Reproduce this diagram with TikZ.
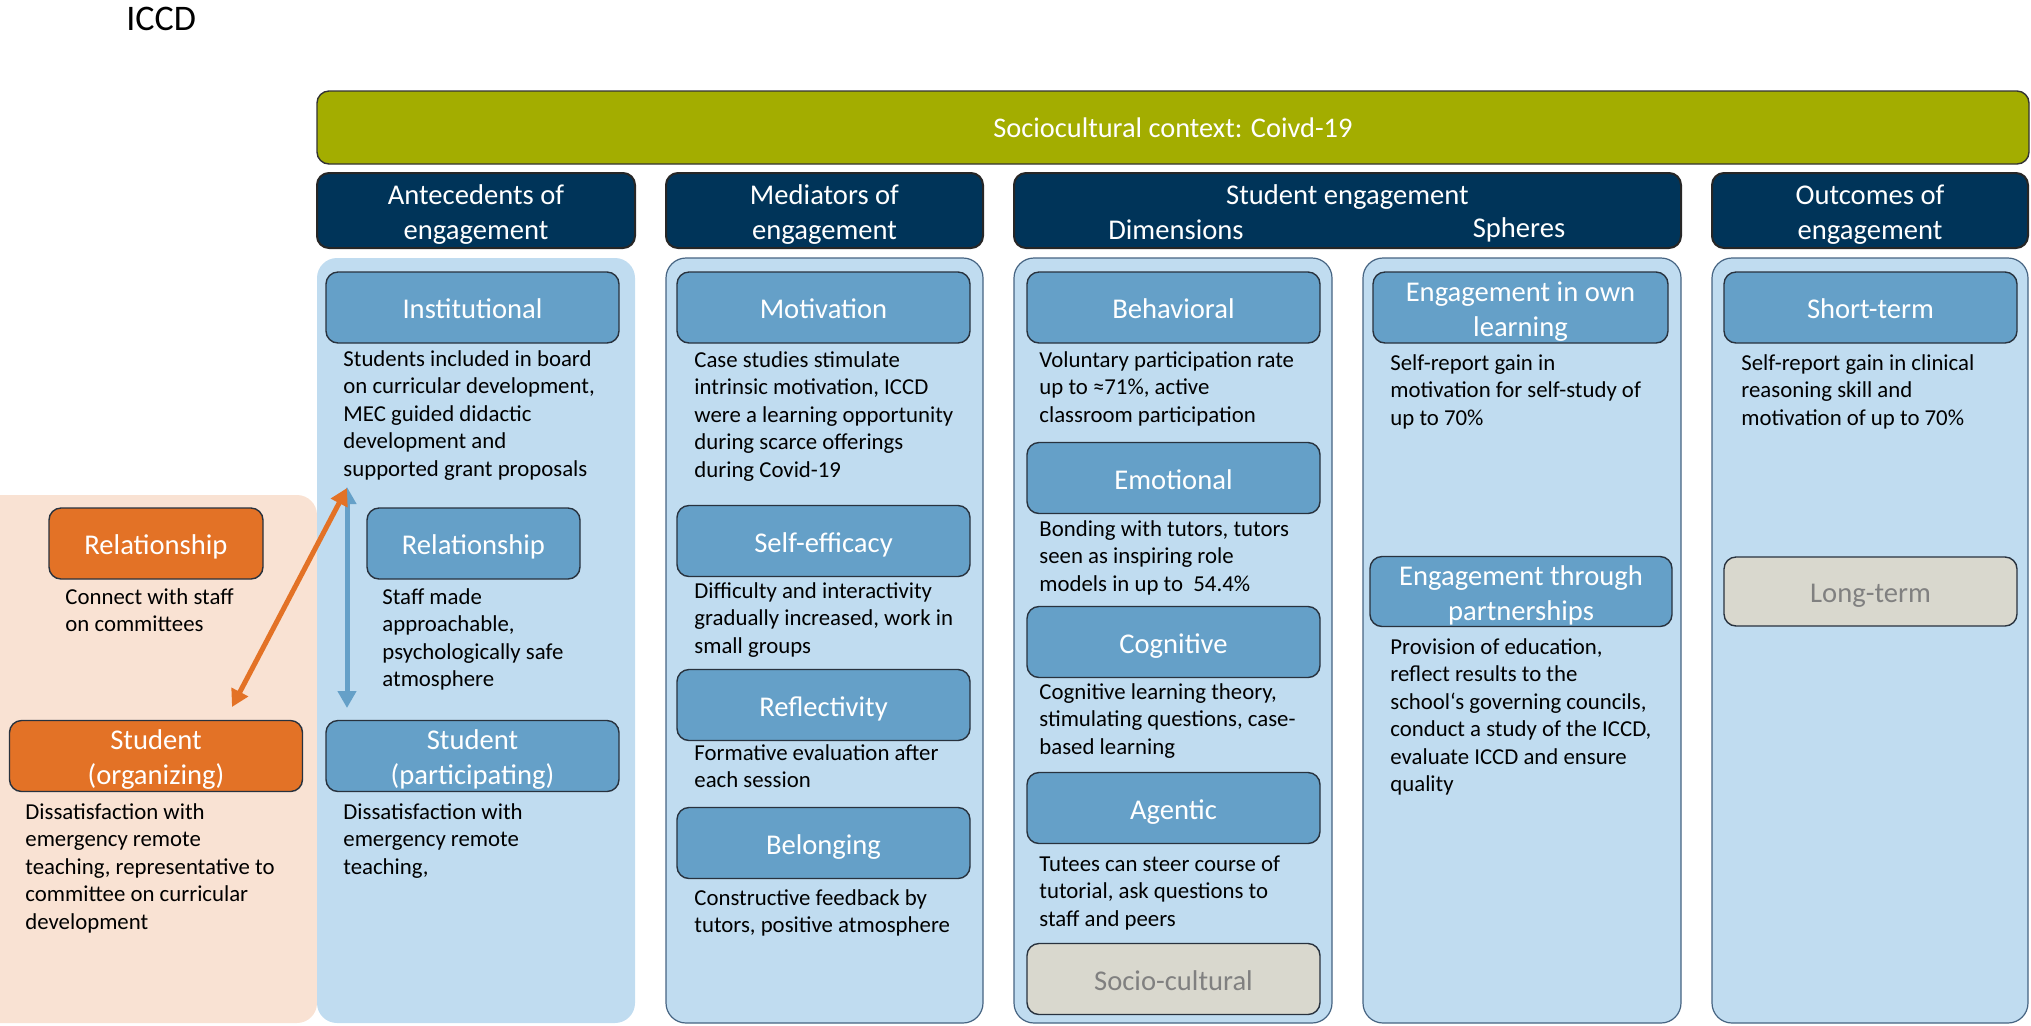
\documentclass[tikz,border=0pt]{standalone}
\usepackage{fontspec}
\setmainfont{Carlito}
\usetikzlibrary{arrows.meta}
\definecolor{ctxgreen}{RGB}{163,173,0}
\definecolor{hdblue}{RGB}{0,52,89}
\definecolor{bgblue}{RGB}{192,220,240}
\definecolor{boxblue}{RGB}{101,160,200}
\definecolor{orng}{RGB}{227,114,38}
\definecolor{peach}{RGB}{249,226,211}
\definecolor{greyfill}{RGB}{217,216,206}
\definecolor{greytext}{RGB}{128,128,128}
\definecolor{edgeline}{RGB}{40,50,62}
\definecolor{bgline}{RGB}{70,100,130}
\newcommand{\twolines}[2]{\raisebox{-2pt}[\height][\depth]{\begin{tabular}{@{}c@{}}#1\\#2\end{tabular}}}
\newcommand{\desclines}[1]{\begin{tabular}[t]{@{}l@{}}#1\end{tabular}}
\tikzset{
  titlefont/.style={font=\fontsize{14.3}{17.5}\selectfont},
  hdbox/.style={titlefont, rounded corners=6pt, fill=hdblue, draw=black!85, line width=1pt,
    text=white, inner sep=0pt, minimum height=37.5pt},
  hdtext/.style={titlefont, text=white, inner sep=0pt},
  subbox/.style={titlefont, rounded corners=6pt, fill=boxblue, draw=edgeline, line width=0.7pt,
    text=white, inner sep=0pt, minimum width=146.5pt, minimum height=35.5pt,
    text height=12.5pt, text depth=1.3pt},
  tall/.style={text height=, text depth=},
  orbox/.style={subbox, fill=orng},
  greybox/.style={subbox, fill=greyfill, text=greytext},
  desc/.style={font=\fontsize{11.4}{13.75}\selectfont, anchor=base west, inner sep=0pt},
  colbg/.style={fill=bgblue, draw=bgline, line width=0.6pt, rounded corners=10pt},
  twohead/.style={line width=2.5pt, {Triangle[width=9pt,length=8.5pt]}-{Triangle[width=9pt,length=8.5pt]}}
}
\begin{document}
\begin{tikzpicture}[x=0.5pt,y=-0.5pt]

  \useasboundingbox (0,0) rectangle (2031,1025);

  \node[anchor=base west, inner sep=0pt, font=\fontsize{18}{21}\selectfont] (iccd) at (126,30) {ICCD};

  \fill[peach, rounded corners=10pt] (-30,495) rectangle (317,1023);
  \fill[bgblue, rounded corners=10pt] (317,258) rectangle (635,1023);
  \path[colbg] (666,258) rectangle (983,1023);
  \path[colbg] (1014,258) rectangle (1332,1023);
  \path[colbg] (1363,258) rectangle (1681,1023);
  \path[colbg] (1712,258) rectangle (2028,1023);

  \node[rounded corners=6pt, fill=ctxgreen, draw=black!80, line width=0.7pt, text=white,
    font=\fontsize{14.2}{17}\selectfont, minimum width=856pt, minimum height=36.5pt, inner sep=0pt]
    (ctx) at (1173,127.5) {Sociocultural context: Coivd-19};

  \begin{scope}[every node/.style={hdbox}]
    \node[minimum width=159pt] (ante) at (476,210.5) {\twolines{Antecedents of}{engagement}};
    \node[minimum width=158.5pt] (medi) at (824.5,210.5) {\twolines{Mediators of}{engagement}};
    \node[minimum width=333.5pt] (enga) at (1347.5,210.5) {};
    \node[minimum width=158pt] (outc) at (1870,210.5) {\twolines{Outcomes of}{engagement}};
  \end{scope}

  \begin{scope}[every node/.style={hdtext}]
    \node (engt) at (1347.5,197) {Student engagement};
    \node (dims) at (1176,230) {Dimensions};
    \node (sphs) at (1519,230) {Spheres};
  \end{scope}

  \begin{scope}[every node/.style={subbox}]
    \node (inst) at (472.5,307.5) {Institutional};
    \node[minimum width=106.5pt] (relb) at (473.5,543.5) {Relationship};
    \node[tall] (spar) at (472.5,756) {\twolines{Student}{(participating)}};
    \node (moti) at (823.5,307.5) {Motivation};
    \node (self) at (823.5,541) {Self-efficacy};
    \node (refl) at (823.5,705) {Reflectivity};
    \node (belo) at (823.5,843) {Belonging};
    \node (beha) at (1173.5,307.5) {Behavioral};
    \node (emot) at (1173.5,478) {Emotional};
    \node (cogn) at (1173.5,642) {Cognitive};
    \node (agen) at (1173.5,808) {Agentic};
    \node[tall, minimum width=147.5pt] (ownl) at (1520.5,307.5) {\twolines{Engagement in own}{learning}};
    \node[tall, minimum width=151pt, minimum height=34.5pt] (part) at (1521,591.5) {\twolines{Engagement through}{partnerships}};
    \node (shor) at (1870.5,307.5) {Short-term};
  \end{scope}

  \node[orbox, minimum width=107pt] (relo) at (156,543.5) {Relationship};
  \node[orbox, tall] (sorg) at (156,756) {\twolines{Student}{(organizing)}};
  \node[greybox] (soci) at (1173.5,979) {Socio-cultural};
  \node[greybox, minimum height=34.5pt] (long) at (1870.5,591.5) {Long-term};

  \begin{scope}[every node/.style={desc}]
    \node (instd) at (343,366) {\desclines{Students included in board\\on curricular development,\\MEC guided didactic\\development and\\supported grant proposals}};
    \node (relbd) at (382,604) {\desclines{Staff made\\approachable,\\psychologically safe\\atmosphere}};
    \node (spard) at (343,819) {\desclines{Dissatisfaction with\\emergency remote\\teaching,}};
    \node (relod) at (65,604) {\desclines{Connect with staff\\on committees}};
    \node (sorgd) at (25,819) {\desclines{Dissatisfaction with\\emergency remote\\teaching, representative to\\committee on curricular\\development}};
    \node (motid) at (694,367) {\desclines{Case studies stimulate\\intrinsic motivation, ICCD\\were a learning opportunity\\during scarce offerings\\during Covid-19}};
    \node (selfd) at (694,598) {\desclines{Difficulty and interactivity\\gradually increased, work in\\small groups}};
    \node (refld) at (694,760) {\desclines{Formative evaluation after\\each session}};
    \node (belod) at (694,905) {\desclines{Constructive feedback by\\tutors, positive atmosphere}};
    \node (behad) at (1039,367) {\desclines{Voluntary participation rate\\up to ≈71\%, active\\classroom participation}};
    \node (emotd) at (1039,536) {\desclines{Bonding with tutors, tutors\\seen as inspiring role\\models in up to\ \ 54.4\%}};
    \node (cognd) at (1039,699) {\desclines{Cognitive learning theory,\\stimulating questions, case-\\based learning}};
    \node (agend) at (1039,871) {\desclines{Tutees can steer course of\\tutorial, ask questions to\\staff and peers}};
    \node (ownld) at (1390,370) {\desclines{Self-report gain in\\motivation for self-study of\\up to 70\%}};
    \node (partd) at (1390,654) {\desclines{Provision of education,\\reflect results to the\\school‘s governing councils,\\conduct a study of the ICCD,\\evaluate ICCD and ensure\\quality}};
    \node (shord) at (1741,370) {\desclines{Self-report gain in clinical\\reasoning skill and\\motivation of up to 70\%}};
  \end{scope}

  \coordinate (otop) at (347,488);
  \coordinate (obot) at (232,707);
  \coordinate (btop) at (347,487);
  \coordinate (bbot) at (347,708);

  \draw[twohead, boxblue] (btop) -- (bbot);
  \draw[twohead, orng] (otop) -- (obot);

\end{tikzpicture}
\end{document}
